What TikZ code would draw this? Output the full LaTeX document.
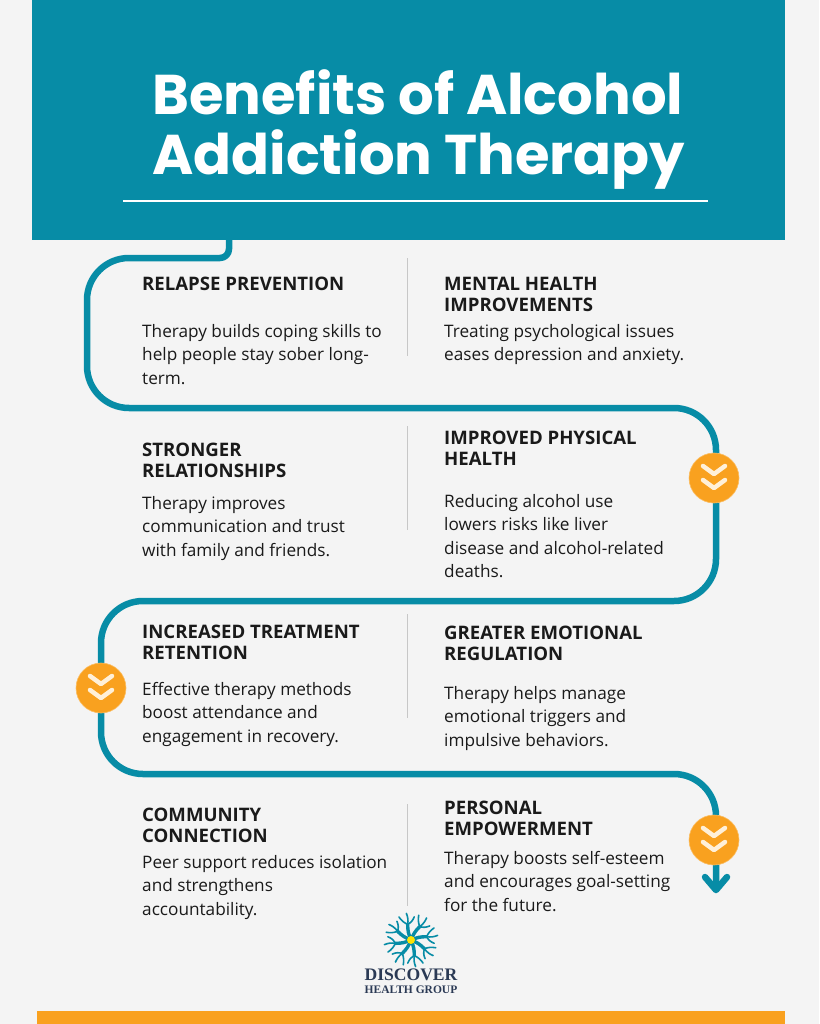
\documentclass[tikz,border=0pt]{standalone}
\usepackage{fontspec}
\setmainfont{Open Sans}
\newfontfamily\titlefont{Poppins}
\newfontfamily\logofont{Liberation Serif}
\definecolor{teal}{HTML}{078CA6}
\definecolor{amber}{HTML}{F9A11F}
\definecolor{paper}{HTML}{F4F4F4}
\definecolor{ink}{HTML}{1A1A1A}
\definecolor{navy}{HTML}{2B3A55}
\definecolor{cream}{HTML}{FFF0D8}
\tikzset{
  head/.style={anchor=north west,inner sep=0pt,align=left,text=ink,font=\fontsize{18.6}{21}\selectfont\bfseries},
  body/.style={anchor=north west,inner sep=0pt,align=left,text=ink,font=\fontsize{17.2}{23.5}\selectfont},
  rule/.style={draw=black!22,line width=1pt},
  route/.style={draw=teal,line width=6.5pt,line join=round},
  badge/.style={circle,fill=amber,draw=amber!70!white,line width=.6pt,minimum size=50pt,inner sep=0pt},
  chev/.style={draw=cream,line width=4.5pt,line cap=round,line join=round},
  branch/.style={draw=teal,line width=1.6pt,line cap=round}
}
\begin{document}
\begin{tikzpicture}[x=1pt,y=-1pt]
	\useasboundingbox (0,0) rectangle (819,1024);
	\fill[paper] (0,0) rectangle (819,1024);
	\fill[teal] (32,0) rectangle (785,240);
	\fill[amber] (37,1011) rectangle (785,1024);
	
	% title
	\node (title)[anchor=west,inner sep=0pt,align=left,text=white,font=\titlefont\fontsize{56}{60}\selectfont\bfseries] at (152,130) {Benefits of Alcohol\\Addiction Therapy};
	\coordinate (ruleA) at (123,201);
	\coordinate (ruleB) at (708,201);
	\draw[white,line width=1.2pt] (ruleA) -- (ruleB);
	
	% route
	\coordinate (r0) at (229,240);
	\coordinate (r1) at (229,258);
	\coordinate (r2) at (87,258);
	\coordinate (r3) at (87,408);
	\coordinate (r4) at (716,408);
	\coordinate (r5) at (716,601);
	\coordinate (r6) at (101,601);
	\coordinate (r7) at (101,774);
	\coordinate (r8) at (716,774);
	\coordinate (r9) at (716,890);
	\coordinate (tipL) at (705,877);
	\coordinate (tipR) at (727,877);
	\draw[route] (r0) [rounded corners=9pt] -- (r1) [rounded corners=42pt] -- (r2) -- (r3) -- (r4) -- (r5) -- (r6) -- (r7) -- (r8) [sharp corners] -- (r9);
	\draw[route,line cap=round] (tipL) -- (r9) -- (tipR);
	
	% separators
	\foreach \ya/\yb in {258/356,426/530,614/718,804/906}
		\draw[rule] (407,\ya) -- (407,\yb);
	
	% badges
	\foreach \nm/\bx/\by in {bA/714/478,bB/101/688,bC/714/840}{
		\node (\nm)[badge] at (\bx,\by) {};
		\draw[chev] ([shift={(-11,-12)}]\nm.center) -- ([shift={(0,-4)}]\nm.center) -- ([shift={(11,-12)}]\nm.center);
		\draw[chev] ([shift={(-11,2)}]\nm.center) -- ([shift={(0,10)}]\nm.center) -- ([shift={(11,2)}]\nm.center);
	}
	
	% left column
	\node (h1)[head] at (142,277) {RELAPSE PREVENTION};
	\node (t1)[body] at (142,324) {Therapy builds coping skills to\\help people stay sober long-\\term.};
	\node (h2)[head] at (142,443) {STRONGER\\RELATIONSHIPS};
	\node (t2)[body] at (142,496) {Therapy improves\\communication and trust\\with family and friends.};
	\node (h3)[head] at (142,625) {INCREASED TREATMENT\\RETENTION};
	\node (t3)[body] at (142,682) {Effective therapy methods\\boost attendance and\\engagement in recovery.};
	\node (h4)[head] at (142,808) {COMMUNITY\\CONNECTION};
	\node (t4)[body] at (142,855) {Peer support reduces isolation\\and strengthens\\accountability.};
	
	% right column
	\node (h5)[head] at (444,277) {MENTAL HEALTH\\IMPROVEMENTS};
	\node (t5)[body] at (444,324) {Treating psychological issues\\eases depression and anxiety.};
	\node (h6)[head] at (444,431) {IMPROVED PHYSICAL\\HEALTH};
	\node (t6)[body] at (444,494) {Reducing alcohol use\\lowers risks like liver\\disease and alcohol-related\\deaths.};
	\node (h7)[head] at (444,626) {GREATER EMOTIONAL\\REGULATION};
	\node (t7)[body] at (444,686) {Therapy helps manage\\emotional triggers and\\impulsive behaviors.};
	\node (h8)[head] at (444,801) {PERSONAL\\EMPOWERMENT};
	\node (t8)[body] at (444,851) {Therapy boosts self-esteem\\and encourages goal-setting\\for the future.};
	
	% logo
	\coordinate (hub) at (411,940);
	\foreach \a in {0,45,...,315}{
		\begin{scope}[rotate around={\a+12:(hub)}]
			\draw[branch,line width=3.4pt] (hub) to[bend left=12] ++(0,-16) coordinate (fork);
			\draw[branch] (fork) to[bend left=15] ++(-7,-9);
			\draw[branch] (fork) to[bend right=15] ++(1,-11);
			\draw[branch] (fork) to[bend right=20] ++(8,-6);
		\end{scope}
	}
	\node (core)[circle,fill=yellow!85!orange,minimum size=8pt,inner sep=0pt] at (hub) {};
	\node (logoA)[inner sep=0pt,text=navy,font=\logofont\fontsize{17.6}{20}\selectfont\bfseries] at (411,975) {DISCOVER};
	\node (logoB)[inner sep=0pt,text=navy,font=\logofont\fontsize{11.5}{12}\selectfont\bfseries] at (411,990) {HEALTH GROUP};
\end{tikzpicture}
\end{document}
